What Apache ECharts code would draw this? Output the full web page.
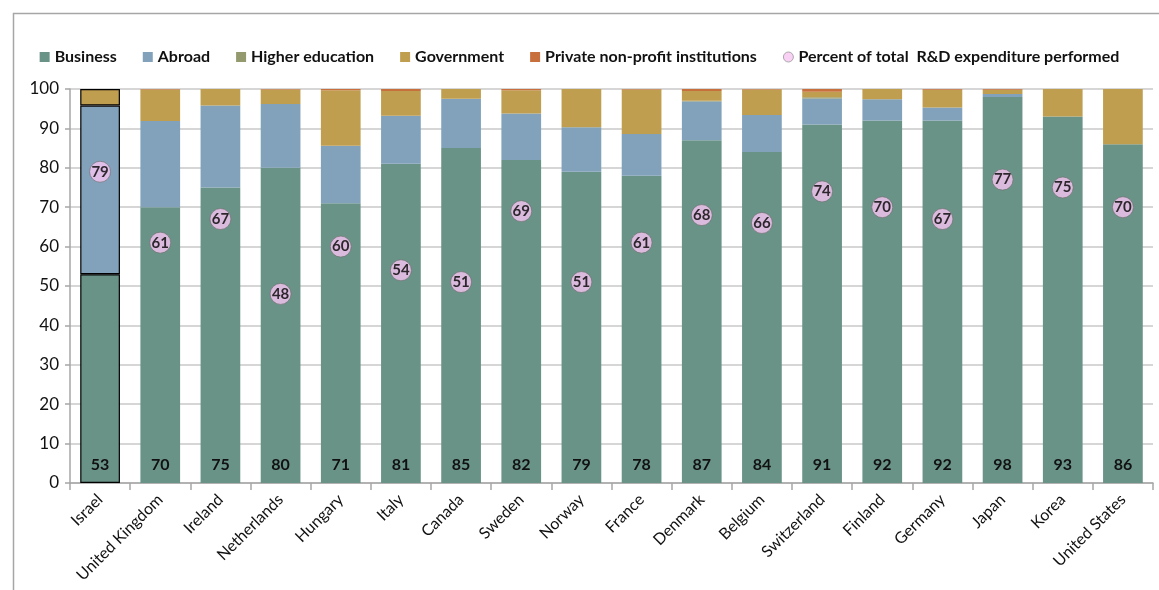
<!DOCTYPE html>
<html>
<head>
<meta charset="utf-8">
<script src="https://cdn.jsdelivr.net/npm/echarts@6/dist/echarts.min.js"></script>
<style>
  html, body { margin: 0; padding: 0; background: #fff; }
  #chart { width: 1159px; height: 590px; }
</style>
</head>
<body>
<div id="chart"></div>
<script>
// R&D expenditure performed by the business sector, by source of funds (%)
const countries = ['Israel', 'United Kingdom', 'Ireland', 'Netherlands', 'Hungary', 'Italy', 'Canada', 'Sweden', 'Norway', 'France', 'Denmark', 'Belgium', 'Switzerland', 'Finland', 'Germany', 'Japan', 'Korea', 'United States'];
const business = [53, 70, 75, 80, 71, 81, 85, 82, 79, 78, 87, 84, 91, 92, 92, 98, 93, 86];
const abroad = [42.8, 21.9, 20.8, 16.2, 14.6, 12.2, 12.5, 11.8, 11.3, 10.6, 9.8, 9.4, 6.6, 5.4, 3.3, 0.7, 0, 0];
const higherEducation = [0, 0, 0, 0, 0, 0, 0, 0, 0, 0, 0.2, 0, 0.3, 0, 0, 0, 0, 0];
const government = [4.2, 8.0, 4.2, 3.7, 14.1, 6.3, 2.5, 5.9, 9.7, 11.3, 2.5, 6.5, 1.4, 2.6, 4.5, 1.1, 7.0, 14];
const privateNonProfit = [0, 0.1, 0, 0.1, 0.3, 0.5, 0, 0.3, 0, 0.1, 0.5, 0.1, 0.7, 0, 0.2, 0.2, 0, 0];
const shareOfTotal = [79, 61, 67, 48, 60, 54, 51, 69, 51, 61, 68, 66, 74, 70, 67, 77, 75, 70];
const yTicks = [0, 10, 20, 30, 40, 50, 60, 70, 80, 90, 100];

const FONT = 'Lato, "Open Sans", sans-serif';
const COLORS = {
  business: '#6a9388',
  abroad: '#82a2bb',
  higher: '#949a6d',
  gov: '#c09e50',
  priv: '#c8703d',
  pink: '#f6c5f3'
};

// Israel is highlighted with a black outline on each of its non-empty segments
function withHighlight(values, color) {
  return values.map((v, i) => {
    if (!v) return '-';
    if (i === 0) {
      return { value: v, itemStyle: { color: color, borderColor: '#000', borderWidth: 1.2 } };
    }
    return v;
  });
}

function barSeries(name, values, color, extra) {
  return Object.assign({
    name: name,
    type: 'bar',
    stack: 'funds',
    barCategoryGap: '34%',
    itemStyle: { color: color },
    emphasis: { disabled: true },
    data: withHighlight(values, color)
  }, extra || {});
}

const chart = echarts.init(document.getElementById('chart'), null, { renderer: 'canvas' });

chart.setOption({
  animation: false,
  textStyle: { fontFamily: FONT },
  graphic: [{
    type: 'rect',
    left: 11, top: 11,
    shape: { width: 1200, height: 700 },
    style: { fill: 'none', stroke: '#a6a6a6', lineWidth: 1.5 },
    silent: true
  }],
  legend: {
    top: 44,
    left: 'center',
    itemGap: 26,
    itemWidth: 10,
    itemHeight: 10,
    textStyle: { fontFamily: FONT, fontSize: 16, fontWeight: 'bold', color: '#111' },
    data: [
      { name: 'Business', icon: 'rect' },
      { name: 'Abroad', icon: 'rect' },
      { name: 'Higher education', icon: 'rect' },
      { name: 'Government', icon: 'rect' },
      { name: 'Private non-profit institutions', icon: 'rect' },
      { name: 'Percent of total  R&D expenditure performed', icon: 'circle', itemStyle: { borderColor: '#999', borderWidth: 1 } }
    ]
  },
  grid: { left: 70, right: 6, top: 89, bottom: 107, containLabel: false },
  xAxis: {
    type: 'category',
    data: countries,
    axisLine: { lineStyle: { color: '#a6a6a6', width: 1.5 } },
    axisTick: { show: true, alignWithLabel: false, length: 7, lineStyle: { color: '#a6a6a6', width: 1.5 } },
    axisLabel: { rotate: 45, fontSize: 16, color: '#111', fontFamily: FONT, margin: 14 }
  },
  yAxis: {
    type: 'value',
    min: yTicks[0],
    max: yTicks[yTicks.length - 1],
    interval: yTicks[1] - yTicks[0],
    axisLine: { show: true, lineStyle: { color: '#a6a6a6', width: 1.5 } },
    axisTick: { show: true, length: 5, lineStyle: { color: '#a6a6a6', width: 1.5 } },
    splitLine: { lineStyle: { color: '#c9c9c9', width: 1.5 } },
    axisLabel: { fontSize: 17, color: '#111', fontFamily: FONT, margin: 11 }
  },
  series: [
    barSeries('Business', business, COLORS.business, {
      label: {
        show: true,
        position: 'insideBottom',
        distance: 10,
        fontFamily: FONT,
        fontSize: 16,
        fontWeight: 'bold',
        color: '#111'
      }
    }),
    barSeries('Abroad', abroad, COLORS.abroad),
    barSeries('Higher education', higherEducation, COLORS.higher),
    barSeries('Government', government, COLORS.gov),
    barSeries('Private non-profit institutions', privateNonProfit, COLORS.priv),
    {
      name: 'Percent of total  R&D expenditure performed',
      type: 'scatter',
      symbol: 'circle',
      symbolSize: 21,
      z: 5,
      itemStyle: { color: COLORS.pink, borderColor: '#6d6d6d', borderWidth: 0.8 },
      emphasis: { disabled: true },
      label: {
        show: true,
        position: 'inside',
        fontFamily: FONT,
        fontSize: 15,
        fontWeight: 'bold',
        color: '#000'
      },
      data: shareOfTotal
    }
  ]
});
</script>
</body>
</html>
